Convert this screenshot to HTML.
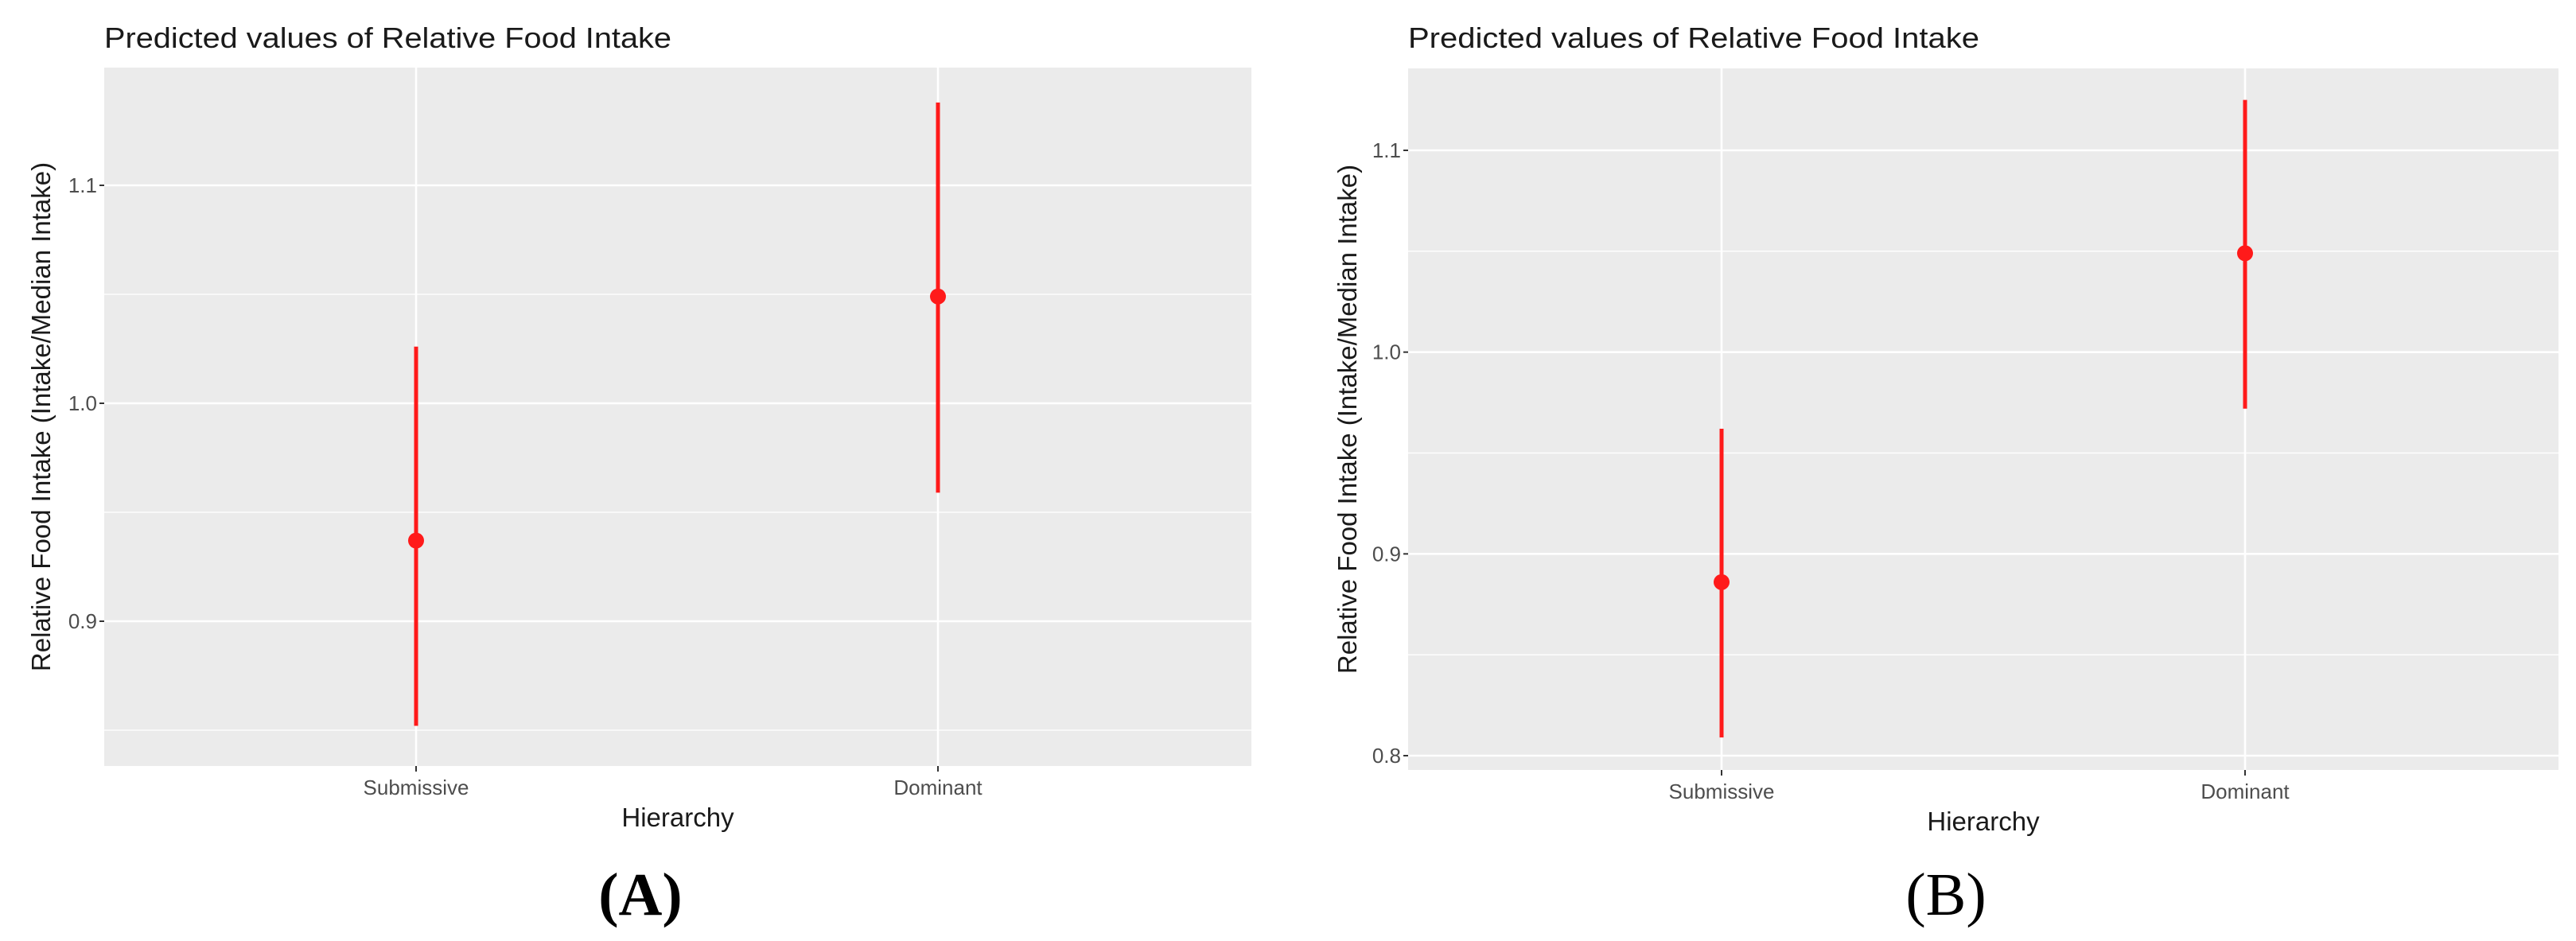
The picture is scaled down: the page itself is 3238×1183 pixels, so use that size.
<!DOCTYPE html>
<html><head><meta charset="utf-8"><style>
html,body{margin:0;padding:0;background:#fff;}
svg{display:block;font-family:"Liberation Sans",sans-serif;}
</style></head><body>
<svg id="fig" width="3238" height="1183" viewBox="0 0 3238 1183"></svg>
<script>
const categories = ["Submissive", "Dominant"];
const estA = [0.937, 1.049];
const lowA = [0.852, 0.959];
const highA = [1.026, 1.138];
const ticksA = [0.9, 1.0, 1.1];
const estB = [0.886, 1.049];
const lowB = [0.809, 0.972];
const highB = [0.962, 1.125];
const ticksB = [0.8, 0.9, 1.0, 1.1];

const NS = "http://www.w3.org/2000/svg";
const svg = document.getElementById("fig");
function mk(tag, attrs, parent, text) {
  const e = document.createElementNS(NS, tag);
  for (const k in attrs) e.setAttribute(k, attrs[k]);
  if (text !== undefined) e.textContent = text;
  (parent || svg).appendChild(e);
  return e;
}

function panel(cfg) {
  const g = mk("g", {});
  
  
  const y = v => cfg.y0 + (v - cfg.v0) * (cfg.y1 - cfg.y0) / (cfg.v1 - cfg.v0);
  const x = i => cfg.cx[i];
  const bg = mk("rect", {x: cfg.L, y: cfg.T, width: cfg.R - cfg.L, height: cfg.B - cfg.T, fill: "#ebebeb"}, g);
  
  
  for (let i = 0; i < cfg.ticks.length + 1; i++) {
    const v = (i < cfg.ticks.length ? cfg.ticks[i] : cfg.ticks[0]) + (i < cfg.ticks.length ? 0.05 : -0.05);
    const yy = y(v);
    if (yy < cfg.T + 20 || yy > cfg.B - 20) continue;
    const l = mk("line", {x1: cfg.L, x2: cfg.R, y1: yy, y2: yy, stroke: "#fff", "stroke-width": 1.3}, g);
    
    
  }
  cfg.ticks.forEach(t => {
    const yy = y(t);
    const l = mk("line", {x1: cfg.L, x2: cfg.R, y1: yy, y2: yy, stroke: "#fff", "stroke-width": 2.6}, g);
    
    
    mk("line", {x1: cfg.L - 6, x2: cfg.L, y1: yy, y2: yy, stroke: "#333", "stroke-width": 2}, g);
    const tl = mk("text", {x: cfg.L - 9, y: yy + 9, "text-anchor": "end", "font-size": 26, fill: "#4d4d4d"}, g, t.toFixed(1));
    
    
  });
  categories.forEach((c, i) => {
    const l = mk("line", {x1: x(i), x2: x(i), y1: cfg.T, y2: cfg.B, stroke: "#fff", "stroke-width": 2.6}, g);
    
    
    mk("line", {x1: x(i), x2: x(i), y1: cfg.B, y2: cfg.B + 7, stroke: "#333", "stroke-width": 2}, g);
    const tl = mk("text", {x: x(i), y: cfg.B + 36, "text-anchor": "middle", "font-size": 26, fill: "#4d4d4d"}, g, c);
    
    
    const eb = mk("line", {x1: x(i), x2: x(i), y1: y(cfg.low[i]), y2: y(cfg.high[i]), stroke: "#ff1a1a", "stroke-width": 5}, g);
    
    
    const pt = mk("circle", {cx: x(i), cy: y(cfg.est[i]), r: 10, fill: "#ff1a1a"}, g);
    
    
  });
  const ti = mk("text", {x: cfg.L, y: 60, "font-size": 36, fill: "#1a1a1a", textLength: cfg.titleLen, lengthAdjust: "spacingAndGlyphs"}, g, "Predicted values of Relative Food Intake");
  
  
  const xt = mk("text", {x: (cfg.L + cfg.R) / 2, y: cfg.B + 76, "text-anchor": "middle", "font-size": 33, fill: "#1a1a1a"}, g, "Hierarchy");
  
  
  const yc = (cfg.T + cfg.B) / 2;
  const yt = mk("text", {x: cfg.yx, y: yc, "text-anchor": "middle", "font-size": 33, fill: "#1a1a1a", transform: `rotate(-90 ${cfg.yx} ${yc})`}, g, "Relative Food Intake (Intake/Median Intake)");
  
  
  const lab = mk("text", {x: cfg.labX, y: 1150, "text-anchor": "middle", "font-size": 76, "font-family": "Liberation Serif, serif", "font-weight": cfg.bold ? "bold" : "normal", fill: "#000"}, g, cfg.label);
  
  
}

panel({name: "panel-a", L: 131, R: 1573, T: 85, B: 963, v0: 1.0, y0: 507, v1: 1.1, y1: 233,
  cx: [523, 1179], ticks: ticksA, est: estA, low: lowA, high: highA, yx: 63, labX: 805, label: "(A)", bold: true, titleLen: 713});
panel({name: "panel-b", L: 1770, R: 3216, T: 86, B: 968, v0: 0.8, y0: 950, v1: 1.1, y1: 189,
  cx: [2164, 2822], ticks: ticksB, est: estB, low: lowB, high: highB, yx: 1705, labX: 2446, label: "(B)", bold: false, titleLen: 718});
</script>
</body></html>
